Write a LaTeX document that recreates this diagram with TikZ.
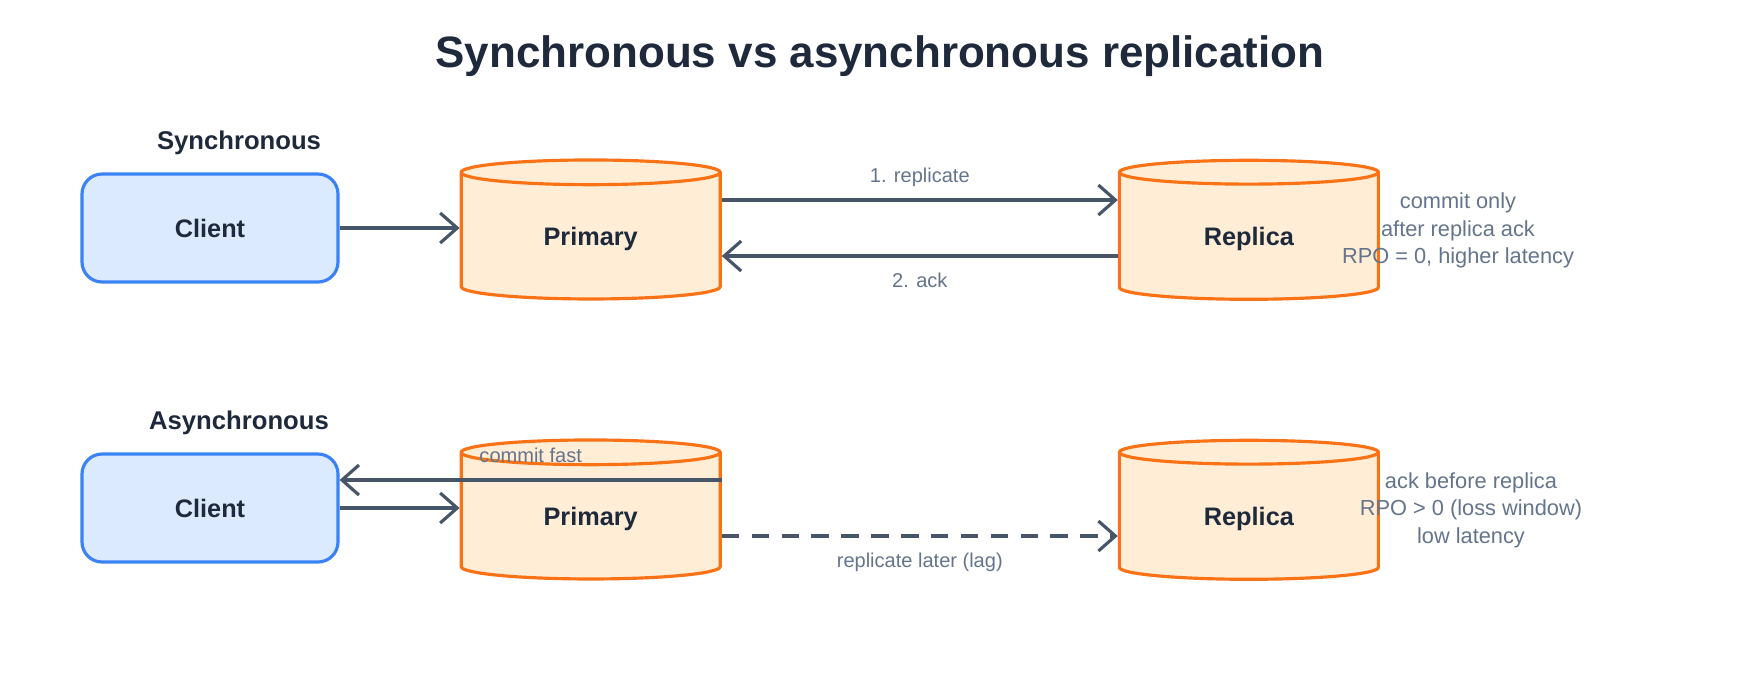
\documentclass[tikz,border=0pt]{standalone}
\usepackage{fontspec}
\setmainfont{Liberation Sans}
\usetikzlibrary{arrows.meta, positioning, shapes.geometric, calc}
\definecolor{cliblue}{HTML}{3B82F6}
\definecolor{clifill}{HTML}{DBEAFE}
\definecolor{dborange}{HTML}{F97316}
\definecolor{dbfill}{HTML}{FFEDD5}
\definecolor{arrgray}{HTML}{475569}
\definecolor{txtgray}{HTML}{64748B}
\definecolor{txtdark}{HTML}{1E293B}
\begin{document}
\begin{tikzpicture}[
  every node/.style={font=\fontsize{5.7}{7}\selectfont},
  clibox/.style={draw=cliblue,fill=clifill,line width=0.9pt,rounded corners=5.7pt,
    minimum width=2.56cm,minimum height=1.08cm,text=txtdark,
    font=\fontsize{7.2}{9}\selectfont\bfseries},
  dbcyl/.style={cylinder,shape border rotate=90,aspect=0.21,draw=dborange,
    fill=dbfill,line width=0.9pt,minimum width=2.59cm,minimum height=1.39cm,
    text=txtdark,font=\fontsize{7.2}{9}\selectfont\bfseries},
  arr/.style={-{Straight Barb[length=1.7mm,width=3mm]},line width=0.9pt,arrgray},
  lb/.style={font=\fontsize{5.7}{7}\selectfont,text=txtgray},
  note/.style={font=\fontsize{6.2}{7.8}\selectfont,text=txtgray,align=center},
  sect/.style={font=\fontsize{7.3}{9}\selectfont\bfseries,text=txtdark}
]
\useasboundingbox (0,0) rectangle (17.6,-6.8);

\node[font=\fontsize{12.5}{15}\selectfont\bfseries,text=txtdark] (title)
  at (8.80,-0.565) {Synchronous vs asynchronous replication};

% Synchronous row
\node[clibox] (cli1) at (2.10,-2.28) {Client};
\node[dbcyl, right=1.20cm of cli1, yshift=-1.1mm] (pri1) {Primary};
\node[dbcyl, right=3.96cm of pri1] (rep1) {Replica};
\node[sect] (sync) at ($(cli1.north)+(0.29,0.295)$) {Synchronous};
\node[note] (n1) at ($(rep1.east)+(0.78,0.085)$)
  {commit only\\after replica ack\\RPO = 0, higher latency};

% Client → Primary
\draw[arr] (cli1.east) -- (cli1.east -| pri1.west);

% Primary → Replica, then ack back
\draw[arr] ([yshift=3.9mm]pri1.east)
  -- node[above=0pt,lb]{1. replicate} ([yshift=3.9mm]rep1.west);
\draw[arr] ([yshift=-1.7mm]rep1.west)
  -- node[below=0.35mm,lb]{2. ack} ([yshift=-1.7mm]pri1.east);

% Asynchronous row
\node[clibox] (cli2) at (2.10,-5.08) {Client};
\node[dbcyl, right=1.20cm of cli2, yshift=-1.1mm] (pri2) {Primary};
\node[dbcyl, right=3.96cm of pri2] (rep2) {Replica};
\node[sect] (async) at ($(cli2.north)+(0.29,0.30)$) {Asynchronous};
\node[note] (n2) at ($(rep2.east)+(0.91,0.09)$)
  {ack before replica\\RPO > 0 (loss window)\\low latency};

% Primary → Client (commit fast)
\coordinate (cf) at ([yshift=3.9mm]pri2.east);
\draw[arr] (cf) -- node[above=0.45mm,lb]{commit fast} (cf -| cli2.east);

% Client → Primary
\draw[arr] (cli2.east) -- (cli2.east -| pri2.west);

% Primary → Replica (later, dashed)
\draw[arr,dash pattern=on 5pt off 3.5pt] ([yshift=-1.7mm]pri2.east)
  -- node[below=0.35mm,lb]{replicate later (lag)} ([yshift=-1.7mm]rep2.west);

\end{tikzpicture}
\end{document}
